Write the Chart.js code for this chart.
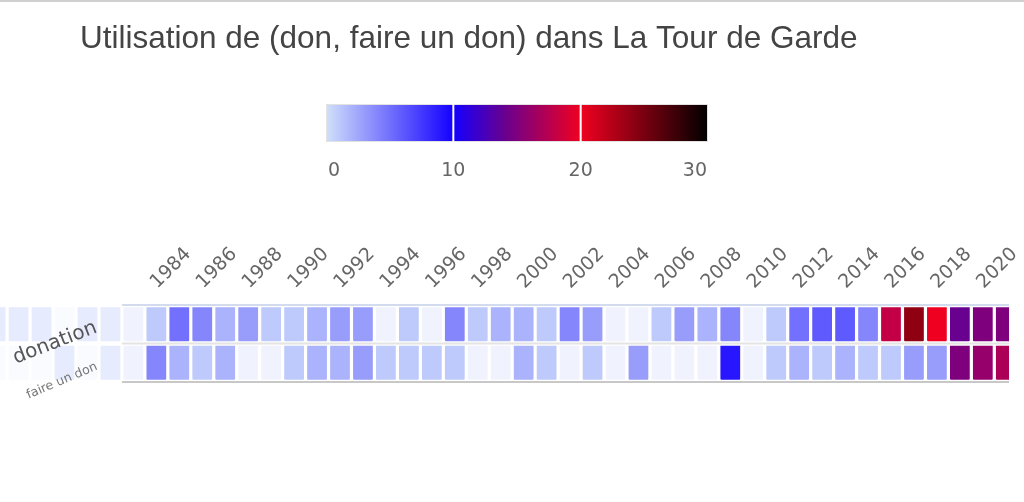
<!DOCTYPE html>
<html>
<head>
<meta charset="utf-8">
<script src="https://cdn.jsdelivr.net/npm/chart.js@4/dist/chart.umd.min.js"></script>
<style>
  html, body { margin: 0; padding: 0; background: #fff; }
  #wrap { width: 1024px; height: 502px; }
</style>
</head>
<body>
<div id="wrap"><canvas id="heat"></canvas></div>
<script>
var years = [1977, 1978, 1979, 1980, 1981, 1982, 1983, 1984, 1985, 1986,
             1987, 1988, 1989, 1990, 1991, 1992, 1993, 1994, 1995, 1996,
             1997, 1998, 1999, 2000, 2001, 2002, 2003, 2004, 2005, 2006,
             2007, 2008, 2009, 2010, 2011, 2012, 2013, 2014, 2015, 2016,
             2017, 2018, 2019, 2020, 2021];
var rowNames = ['donation', 'faire un don'];
var donation = [1, 1, 1, 0, 1, 1, 0, 1, 5, 4,
                2, 3, 1, 1, 2, 3, 3, 0, 1, 0,
                4, 1, 2, 2, 1, 4, 3, 0, 0, 1,
                3, 2, 4, 0, 1, 5, 6, 6, 4, 18,
                24, 20, 14, 15, 15];
var faireUnDon = [0, 0, 0, 1, 0, 1, 0, 4, 2, 1,
                  2, 0, 0, 1, 2, 2, 3, 1, 1, 1,
                  1, 0, 0, 2, 1, 0, 1, 0, 3, 0,
                  0, 0, 9, 0, 1, 2, 1, 2, 1, 1,
                  3, 3, 15, 16, 17];
var tickYears = [1984, 1986, 1988, 1990, 1992, 1994, 1996, 1998, 2000, 2002,
                 2004, 2006, 2008, 2010, 2012, 2014, 2016, 2018, 2020];
var colorTicks = [0, 10, 20, 30];

var titleText = 'Utilisation de (don, faire un don) dans La Tour de Garde';

// colour scale: value -> rgb
var colorStops = [
  [0, [208, 224, 250]],
  [10, [20, 0, 255]],
  [14, [104, 0, 144]],
  [20, [240, 0, 32]],
  [30, [0, 0, 0]]
];
var zeroColor = '#f0f3fe';

function scaleRgb(v) {
  for (var i = 1; i < colorStops.length; i++) {
    var a = colorStops[i - 1], b = colorStops[i];
    if (v <= b[0] || i === colorStops.length - 1) {
      var t = Math.max(0, Math.min(1, (v - a[0]) / (b[0] - a[0])));
      return a[1].map(function(c, k) { return Math.round(c + (b[1][k] - c) * t); });
    }
  }
}
function cellColor(v) {
  if (v === 0) return zeroColor;
  var c = scaleRgb(v);
  return 'rgb(' + c.join(',') + ')';
}

function rowData(values, rowIndex) {
  return years.map(function(y, i) {
    return { x: y, y: [rowIndex - 0.44, rowIndex + 0.44], v: values[i] };
  });
}

var series = [donation, faireUnDon];
var datasets = series.map(function(values, r) {
  return {
    label: rowNames[r],
    data: rowData(values, r),
    backgroundColor: values.map(cellColor),
    grouped: false,
    barPercentage: 0.86,
    categoryPercentage: 1,
    borderRadius: 1
  };
});

var decor = {
  id: 'decor',
  beforeDraw: function(chart) {
    var ctx = chart.ctx;
    ctx.save();
    // top rule
    ctx.fillStyle = '#d0d0d0';
    ctx.fillRect(0, 0, 1024, 2);
    // title
    ctx.fillStyle = '#444';
    ctx.font = '31.5px "Liberation Sans", Arial, sans-serif';
    ctx.textBaseline = 'alphabetic';
    ctx.textAlign = 'left';
    ctx.fillText(titleText, 80, 48);
    // colour bar
    var x0 = 326, x1 = 708, y0 = 104, y1 = 142, vmax = 30;
    var g = ctx.createLinearGradient(x0, 0, x1, 0);
    colorStops.forEach(function(s) {
      g.addColorStop(Math.min(1, s[0] / vmax), 'rgb(' + s[1].join(',') + ')');
    });
    ctx.fillStyle = g;
    ctx.fillRect(x0, y0, x1 - x0, y1 - y0);
    ctx.strokeStyle = '#e2e2e2';
    ctx.lineWidth = 1;
    ctx.strokeRect(x0 + 0.5, y0 + 0.5, x1 - x0 - 1, y1 - y0 - 1);
    ctx.fillStyle = '#fff';
    [10, 20].forEach(function(v) {
      var px = x0 + (x1 - x0) * v / vmax;
      ctx.fillRect(px - 1, y0, 2, y1 - y0);
    });
    ctx.fillStyle = '#666';
    ctx.font = '19px "DejaVu Sans", sans-serif';
    ctx.textBaseline = 'middle';
    colorTicks.forEach(function(v, i) {
      var px = x0 + (x1 - x0) * v / vmax;
      ctx.textAlign = i === 0 ? 'left' : (i === colorTicks.length - 1 ? 'right' : 'center');
      ctx.fillText(String(v), i === 0 ? px + 2 : (i === colorTicks.length - 1 ? px - 1 : px), 171);
    });
    ctx.restore();
  },
  afterDatasetsDraw: function(chart) {
    var ctx = chart.ctx, area = chart.chartArea, ys = chart.scales.y, xs = chart.scales.x;
    ctx.save();
    var lx = 122;
    ctx.fillStyle = '#d3dbee';
    ctx.fillRect(lx, area.top - 1, area.right - lx, 2);
    ctx.fillStyle = '#e4e4e4';
    ctx.fillRect(lx, ys.getPixelForValue(0.5) - 1, area.right - lx, 2);
    ctx.fillStyle = '#c8c8c8';
    ctx.fillRect(lx, area.bottom - 1, area.right - lx, 2);
    // year labels, rotated, starting at each tick
    ctx.fillStyle = '#666';
    ctx.font = '19px "DejaVu Sans", sans-serif';
    ctx.textAlign = 'left';
    ctx.textBaseline = 'alphabetic';
    tickYears.forEach(function(yr) {
      var px = xs.getPixelForValue(yr);
      ctx.setTransform(1, 0, 0, 1, px + 1, area.top - 16);
      ctx.rotate(-Math.PI / 4);
      ctx.fillText(String(yr), 0, 0);
    });
    ctx.setTransform(1, 0, 0, 1, 0, 0);
    // faded label region
    ctx.fillStyle = 'rgba(255,255,255,0.62)';
    ctx.fillRect(0, area.top - 4, lx, area.bottom - area.top + 8);
    // row labels
    ctx.fillStyle = '#555';
    ctx.font = '20px "DejaVu Sans", sans-serif';
    ctx.textAlign = 'center';
    ctx.textBaseline = 'middle';
    ctx.translate(55, 343);
    ctx.rotate(-21 * Math.PI / 180);
    ctx.fillText(rowNames[0], 0, 0);
    ctx.setTransform(1, 0, 0, 1, 0, 0);
    ctx.fillStyle = '#777';
    ctx.font = '12.5px "DejaVu Sans", sans-serif';
    ctx.translate(62, 381);
    ctx.rotate(-23 * Math.PI / 180);
    ctx.fillText(rowNames[1], 0, 0);
    ctx.restore();
  }
};

Chart.defaults.font.family = '"DejaVu Sans", sans-serif';

new Chart(document.getElementById('heat'), {
  type: 'bar',
  data: { datasets: datasets },
  plugins: [decor],
  options: {
    responsive: true,
    maintainAspectRatio: false,
    animation: false,
    layout: { padding: { top: 205, bottom: 120, left: 0, right: 15 } },
    plugins: { legend: { display: false }, tooltip: { enabled: false } },
    scales: {
      x: {
        type: 'linear',
        position: 'top',
        offset: false,
        min: 1977.19,
        max: 2021.14,
        grid: { display: false },
        border: { display: false },
        afterBuildTicks: function(scale) {
          scale.ticks = tickYears.map(function(v) { return { value: v }; });
        },
        afterFit: function(scale) {
          scale.height = 100;
          scale.paddingLeft = 0;
          scale.paddingRight = 0;
        },
        ticks: { display: false }
      },
      y: {
        type: 'linear',
        min: -0.5,
        max: 1.5,
        reverse: true,
        display: false
      }
    }
  }
});
</script>
</body>
</html>
